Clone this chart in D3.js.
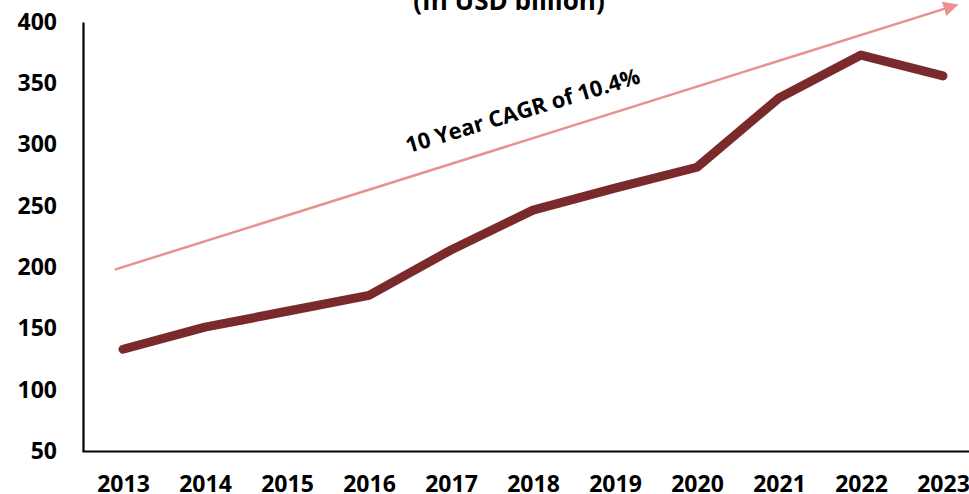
<!DOCTYPE html>
<html>
<head>
<meta charset="utf-8">
<script src="https://cdn.jsdelivr.net/npm/d3@7"></script>
<style>
  body { margin: 0; background: #fff; }
  text { font-family: "Open Sans", sans-serif; font-weight: bold; fill: #000; }
</style>
</head>
<body>
<div id="canvas"></div>
<script>
const years = [2013, 2014, 2015, 2016, 2017, 2018, 2019, 2020, 2021, 2022, 2023];
const values = [133, 151, 164, 177, 214, 246.5, 264.5, 281.5, 338, 373, 356];
const yTicks = [50, 100, 150, 200, 250, 300, 350, 400];
const arrowYears = [2012.9, 2023.17];
const arrowValues = [198, 414];
const subtitle = "(In USD billion)";
const cagrLabel = "10 Year CAGR of 10.4%";

const width = 969;
const height = 494;

const svg = d3.select("#canvas").append("svg")
    .attr("width", width)
    .attr("height", height);

const x = d3.scaleLinear()
    .domain([2012.5, 2023.5])
    .range([82, 984]);
const y = d3.scaleLinear()
    .domain([50, 400])
    .range([451, 22]);

// title (second line only, cut at the top)
svg.append("text")
    .attr("x", 509)
    .attr("y", 10)
    .attr("text-anchor", "middle")
    .style("font-size", "26px")
    .text(subtitle);

// axes
const xAxis = svg.append("g")
    .attr("transform", `translate(0,${y(50)})`)
    .call(d3.axisBottom(x).tickValues(years).tickFormat(d3.format("d")).tickSize(0));
xAxis.select(".domain").attr("stroke", "#000").attr("stroke-width", 2.2);
xAxis.selectAll("text")
    .attr("y", 41)
    .attr("dy", 0)
    .style("font-size", "23px")
    .style("font-family", "'Open Sans', sans-serif")
    .style("font-weight", "bold");

const yAxis = svg.append("g")
    .attr("transform", `translate(${x(2012.5) + 1},0)`)
    .call(d3.axisLeft(y).tickValues(yTicks).tickSize(0));
yAxis.select(".domain").attr("stroke", "#000").attr("stroke-width", 2.2);
yAxis.selectAll("text")
    .attr("x", -26)
    .style("font-size", "23px")
    .style("font-family", "'Open Sans', sans-serif")
    .style("font-weight", "bold");

// CAGR arrow
svg.append("defs").append("marker")
    .attr("id", "head")
    .attr("viewBox", "0 0 10 10")
    .attr("refX", 9)
    .attr("refY", 5)
    .attr("markerWidth", 6)
    .attr("markerHeight", 6)
    .attr("markerUnits", "strokeWidth")
    .attr("orient", "auto")
    .append("path")
    .attr("d", "M0,0 L10,5 L0,10 Z")
    .attr("fill", "#E8918F");

svg.append("line")
    .attr("x1", x(arrowYears[0]))
    .attr("y1", y(arrowValues[0]))
    .attr("x2", x(arrowYears[1]))
    .attr("y2", y(arrowValues[1]))
    .attr("stroke", "#E8918F")
    .attr("stroke-width", 2.5)
    .attr("marker-end", "url(#head)");

// data line
const line = d3.line()
    .x((d, i) => x(years[i]))
    .y(d => y(d));

svg.append("path")
    .datum(values)
    .attr("d", line)
    .attr("fill", "none")
    .attr("stroke", "#7B2A2C")
    .attr("stroke-width", 9)
    .attr("stroke-linecap", "round")
    .attr("stroke-linejoin", "round");

// CAGR label
svg.append("text")
    .attr("transform", `translate(${x(2017.9)},${y(321.6)}) rotate(-16.8)`)
    .attr("text-anchor", "middle")
    .style("font-size", "22px")
    .text(cagrLabel);
</script>
</body>
</html>
